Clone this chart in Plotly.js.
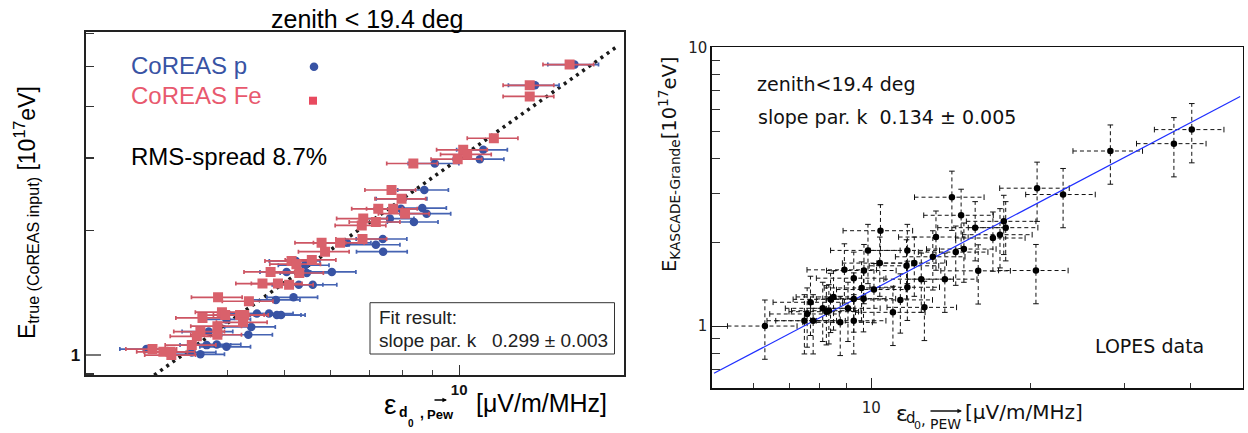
<!DOCTYPE html>
<html><head><meta charset="utf-8">
<script src="https://cdn.plot.ly/plotly-3.0.1.min.js"></script>
<style>html,body{margin:0;padding:0;background:#fff}#chart{width:1248px;height:433px}</style>
</head><body><div id="chart"></div>
<script>
// ---------- data: left panel (CoREAS simulations) ----------
const pX = [15.78,13.50,11.00,10.85,9.08,8.71,8.00,7.94,8.64,8.79,7.60,8.36,7.39,7.19,7.40,6.41,5.24,5.43,6.04,5.47,5.05,5.30,5.60,5.19,4.84,4.49,4.71,4.86,4.94,4.39,4.34,3.71,3.98,3.68,3.83,3.98,2.90,3.47,3.59];
const pY = [5.05,4.50,3.14,2.98,2.91,2.51,2.39,2.26,2.27,2.20,2.14,2.10,1.91,1.85,1.78,1.87,1.69,1.65,1.59,1.58,1.59,1.48,1.48,1.38,1.36,1.26,1.26,1.25,1.25,1.17,1.12,1.14,1.22,1.057,1.061,1.047,1.034,1.015,1.004];
const feX = [15.48,13.22,13.22,11.47,10.16,10.32,9.94,8.34,7.65,7.96,7.26,7.70,8.07,6.84,6.80,7.19,6.82,5.80,6.24,5.88,5.15,5.58,5.25,4.74,5.31,4.59,4.88,5.10,3.85,4.35,3.91,3.96,4.20,4.27,3.62,4.25,3.84,3.84,3.59,3.54,3.47,2.97,3.10,3.19,3.20];
const feY = [5.05,4.50,4.23,3.35,3.14,3.06,2.98,2.91,2.51,2.39,2.26,2.26,2.20,2.14,2.06,2.10,1.91,1.87,1.87,1.78,1.69,1.70,1.66,1.59,1.58,1.49,1.49,1.48,1.38,1.35,1.27,1.25,1.25,1.25,1.23,1.20,1.175,1.12,1.14,1.11,1.057,1.034,1.018,1.018,1.00];
const simErrPct = 10;            // horizontal error of the simulated points (%)
const kLeft = 0.299, kLeftErr = 0.003;
const fitLeftX = [2.99, 18.8];

// ---------- data: right panel (LOPES) ----------
const lopesX = [6.30,7.48,7.57,7.68,7.77,8.10,8.23,8.32,8.38,8.49,8.74,9.04,8.90,9.27,9.27,9.27,9.59,9.69,9.67,9.86,10.12,10.41,10.38,10.99,11.35,11.66,11.70,11.70,12.06,12.43,12.60,13.07,13.25,13.77,14.20,14.44,14.78,14.96,15.71,15.92,16.97,17.50,17.79,17.94,20.46,20.56,23.02,28.27,37.26,40.27];
const lopesY = [1.000,1.045,1.105,1.217,1.045,1.158,1.126,1.135,1.247,1.272,1.031,1.158,1.591,1.485,1.251,1.045,1.370,1.582,1.254,1.868,1.352,2.198,1.682,1.120,1.241,1.645,1.868,1.378,1.682,1.473,1.167,1.772,2.086,1.473,2.899,1.842,2.497,1.889,2.254,1.578,2.069,2.127,2.375,2.254,1.582,3.123,2.964,4.246,4.512,5.067];
const lopesErrXPct = 15, lopesErrYPct = 24;
const kRight = 0.134, kRightErr = 0.005;
const fitRightX = [5.05, 49.7];

// ---------- helpers ----------
const W = 1248, H = 433;
const PX = v => v / W, PY = v => 1 - v / H;
const LS = 'Liberation Sans, Arial, sans-serif';
const DJ = 'DejaVu Sans, sans-serif';

// dashed error bar segments for LOPES (through the axes' data scale)
const hX = [], hY = [], vX = [], vY = [], capHX = [], capHY = [], capVX = [], capVY = [];
lopesX.forEach((x, i) => {
  const y = lopesY[i];
  const xl = x * (1 - lopesErrXPct / 100), xh = x * (1 + lopesErrXPct / 100);
  const yl = y * (1 - lopesErrYPct / 100), yh = y * (1 + lopesErrYPct / 100);
  hX.push(xl, xh, null); hY.push(y, y, null);
  vX.push(x, x, null); vY.push(yl, yh, null);
  capHX.push(xl, xh); capHY.push(y, y);
  capVX.push(x, x); capVY.push(yl, yh);
});

const traces = [
  // left panel
  {x: fitLeftX, y: fitLeftX.map(v => kLeft * v), xaxis: 'x', yaxis: 'y', mode: 'lines',
   line: {color: '#1a1a1a', width: 3.5, dash: '3px,4.5px'}, hoverinfo: 'skip'},
  {x: pX, y: pY, xaxis: 'x', yaxis: 'y', mode: 'markers', name: 'CoREAS p',
   marker: {symbol: 'circle', size: 8.5, color: '#3853a4'},
   error_x: {type: 'percent', value: simErrPct, color: '#4563b2', thickness: 1.7, width: 2}},
  {x: feX, y: feY, xaxis: 'x', yaxis: 'y', mode: 'markers', name: 'CoREAS Fe',
   marker: {symbol: 'square', size: 10, color: '#d9616b'},
   error_x: {type: 'percent', value: simErrPct, color: '#cd5563', thickness: 1.7, width: 2}},
  // right panel
  {x: hX, y: hY, xaxis: 'x2', yaxis: 'y2', mode: 'lines', line: {color: '#111', width: 1, dash: '4px,3px'}, hoverinfo: 'skip'},
  {x: vX, y: vY, xaxis: 'x2', yaxis: 'y2', mode: 'lines', line: {color: '#111', width: 1, dash: '4px,3px'}, hoverinfo: 'skip'},
  {x: capHX, y: capHY, xaxis: 'x2', yaxis: 'y2', mode: 'markers',
   marker: {symbol: 'line-ns', size: 4, line: {color: '#111', width: 1}}, hoverinfo: 'skip'},
  {x: capVX, y: capVY, xaxis: 'x2', yaxis: 'y2', mode: 'markers',
   marker: {symbol: 'line-ew', size: 4, line: {color: '#111', width: 1}}, hoverinfo: 'skip'},
  {x: fitRightX, y: fitRightX.map(v => kRight * v), xaxis: 'x2', yaxis: 'y2', mode: 'lines',
   line: {color: '#1f2fff', width: 1.2}, hoverinfo: 'skip'},
  {x: lopesX, y: lopesY, xaxis: 'x2', yaxis: 'y2', mode: 'markers', name: 'LOPES data',
   marker: {symbol: 'circle', size: 6.5, color: '#000'}}
];

function ann(text, x, y, size, opts) {
  return Object.assign({text: text, x: PX(x), y: PY(y), xref: 'paper', yref: 'paper', showarrow: false,
    xanchor: 'center', yanchor: 'middle', font: {family: LS, size: size, color: '#000'}}, opts || {});
}
function vecArrow(xTip, y, len, color) {
  return {text: '', x: PX(xTip), y: PY(y), xref: 'paper', yref: 'paper', showarrow: true,
    ax: -len, ay: 0, axref: 'pixel', ayref: 'pixel', arrowhead: 2, arrowsize: 0.7, arrowwidth: 1.3,
    arrowcolor: color, standoff: 0, startstandoff: 0};
}
const NB = '\u00a0';

const annotations = [
  // left panel
  ann('zenith < 19.4 deg', 367, 19, 25),
  ann('CoREAS p', 128.5, 66, 24, {xanchor: 'left', font: {family: LS, size: 24, color: '#3853a4'}}),
  ann('CoREAS Fe', 128.5, 95, 24, {xanchor: 'left', font: {family: LS, size: 24, color: '#e8596e'}}),
  ann('RMS-spread 8.7%', 128.5, 156, 24, {xanchor: 'left'}),
  ann('Fit result:', 377, 317, 19, {xanchor: 'left', font: {family: LS, size: 19, color: '#222'}}),
  ann('slope par. k' + NB + NB + NB + kLeft.toFixed(3) + ' ± ' + kLeftErr.toFixed(3), 377, 340, 19,
      {xanchor: 'left', font: {family: LS, size: 19, color: '#222'}}),
  ann('E<sub>true (CoREAS input)</sub> [10<sup>17</sup>eV]', 26, 213, 23, {textangle: -90}),
  ann('ε', 390, 404, 28),
  ann('<b>d</b>', 403.5, 412, 14),
  ann('<b>0</b>', 410.5, 423, 10),
  ann('<b>,</b>', 422, 413, 14),
  ann('<b>Pew</b>', 440, 414, 13),
  vecArrow(447, 400, 14, '#000'),
  ann('[μV/m/MHz]', 541, 403, 25),
  // right panel
  ann('zenith<19.4 deg', 755, 84, 19, {xanchor: 'left', font: {family: DJ, size: 19, color: '#111'}}),
  ann('slope par. k' + NB + NB + kRight.toFixed(3) + ' ± ' + kRightErr.toFixed(3), 756, 117, 19,
      {xanchor: 'left', font: {family: DJ, size: 19, color: '#111'}}),
  ann('LOPES data', 1092.7, 346, 19, {xanchor: 'left', font: {family: DJ, size: 19, color: '#111'}}),
  ann('E<sub>KASCADE-Grande</sub>[10<sup>17</sup>eV]', 669, 165, 19.5, {textangle: -90, font: {family: DJ, size: 19.5, color: '#111'}}),
  ann('ε', 901.5, 413, 22, {font: {family: DJ, size: 22, color: '#111'}}),
  ann('d', 911, 418, 15, {font: {family: DJ, size: 15, color: '#111'}}),
  ann('0', 917.5, 425, 11, {font: {family: DJ, size: 11, color: '#111'}}),
  ann(',', 923.5, 420, 15, {font: {family: DJ, size: 15, color: '#111'}}),
  ann('PEW', 945, 424, 14, {font: {family: DJ, size: 14, color: '#111'}}),
  vecArrow(962, 411, 33, '#111'),
  ann('[μV/m/MHz]', 1023.7, 412, 20, {font: {family: DJ, size: 20, color: '#111'}})
];

const shapes = [
  {type: 'rect', xref: 'paper', yref: 'paper', x0: PX(370), x1: PX(614.5), y0: PY(354), y1: PY(302.7),
   line: {color: '#333', width: 1}},
  {type: 'circle', xref: 'paper', yref: 'paper', x0: PX(309.7), x1: PX(318.3), y0: PY(71), y1: PY(62.4),
   fillcolor: '#3853a4', line: {width: 0}},
  {type: 'rect', xref: 'paper', yref: 'paper', x0: PX(309), x1: PX(317), y0: PY(104.7), y1: PY(96.7),
   fillcolor: '#e84a5f', line: {width: 0}}
];

const layout = {
  width: W, height: H, margin: {l: 0, r: 0, t: 0, b: 0},
  paper_bgcolor: '#fff', plot_bgcolor: '#fff', showlegend: false,
  xaxis: {type: 'log', domain: [PX(85.7), PX(624)], range: [Math.log10(2.28), Math.log10(19.2)],
    showline: true, mirror: true, linecolor: '#222', linewidth: 2, showgrid: false, zeroline: false,
    ticks: 'inside', ticklen: 10, tickwidth: 1, tickcolor: '#333', tickmode: 'array', tickvals: [10], ticktext: ['<b>10</b>'],
    tickfont: {family: LS, size: 15, color: '#111'},
    minor: {ticks: 'inside', ticklen: 5, tickwidth: 1, tickcolor: '#444', tickmode: 'array', tickvals: [4,5,6,7,8,9]}},
  yaxis: {type: 'log', domain: [PY(375.3), PY(31.7)], range: [-0.049, 0.783],
    showline: true, mirror: true, linecolor: '#222', linewidth: 2, showgrid: false, zeroline: false,
    ticks: 'inside', ticklen: 15, tickwidth: 1.5, tickcolor: '#777', tickmode: 'array', tickvals: [1], ticktext: ['<b>1</b>'],
    tickfont: {family: LS, size: 17, color: '#111'},
    minor: {ticks: 'inside', ticklen: 8, tickwidth: 1.2, tickcolor: '#333', tickmode: 'array', tickvals: [0.9,2,3,4,5,6]}},
  xaxis2: {type: 'log', anchor: 'y2', domain: [PX(711.7), PX(1242.5)], range: [Math.log10(5), Math.log10(50.2)],
    showline: true, mirror: true, linecolor: '#111', linewidth: 1.3, showgrid: false, zeroline: false,
    ticks: 'inside', ticklen: 10, tickwidth: 1, tickcolor: '#222', tickmode: 'array', tickvals: [10], ticktext: ['10'],
    tickfont: {family: DJ, size: 15, color: '#222'}, ticklabelstandoff: 5,
    minor: {ticks: 'inside', ticklen: 5, tickwidth: 1, tickcolor: '#333', tickmode: 'array', tickvals: [6,7,8,9,20,30,40]}},
  yaxis2: {type: 'log', anchor: 'x2', domain: [PY(388.3), PY(47.3)], range: [Math.log10(0.598), 1],
    showline: true, mirror: true, linecolor: '#111', linewidth: 1.3, showgrid: false, zeroline: false,
    ticks: 'inside', ticklen: 15, tickwidth: 1, tickcolor: '#222', tickmode: 'array', tickvals: [1, 10], ticktext: ['1', '10'],
    tickfont: {family: DJ, size: 15, color: '#222'},
    minor: {ticks: 'inside', ticklen: 8, tickwidth: 1, tickcolor: '#333', tickmode: 'array', tickvals: [0.7,0.8,0.9,2,3,4,5,6,7,8,9]}},
  annotations: annotations, shapes: shapes
};

Plotly.newPlot('chart', traces, layout, {staticPlot: true, displayModeBar: false});
</script>
</body></html>
